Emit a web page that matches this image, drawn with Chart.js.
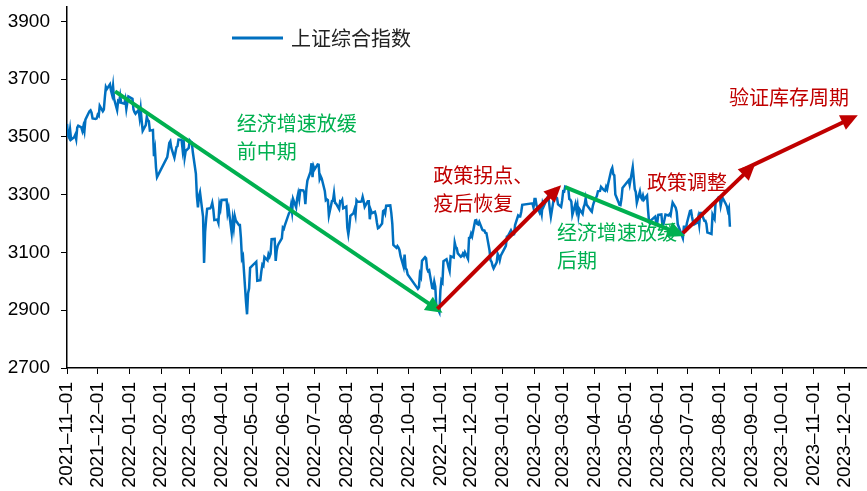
<!DOCTYPE html>
<html>
<head>
<meta charset="utf-8">
<script src="https://cdn.jsdelivr.net/npm/chart.js@4"></script>
<style>
  body { margin: 0; background: #fff; }
</style>
</head>
<body>
<canvas id="sseChart" width="867" height="491"></canvas>
<script>
// 上证综合指数 daily close
var closeDates = [
  '2021-11-01','2021-11-02','2021-11-03','2021-11-04','2021-11-05','2021-11-08','2021-11-09','2021-11-10','2021-11-11','2021-11-12',
  '2021-11-15','2021-11-16','2021-11-17','2021-11-18','2021-11-19','2021-11-22','2021-11-23','2021-11-24','2021-11-25','2021-11-26',
  '2021-11-29','2021-11-30','2021-12-01','2021-12-02','2021-12-03','2021-12-06','2021-12-07','2021-12-08','2021-12-09','2021-12-10',
  '2021-12-13','2021-12-14','2021-12-15','2021-12-16','2021-12-17','2021-12-20','2021-12-21','2021-12-22','2021-12-23','2021-12-24',
  '2021-12-27','2021-12-28','2021-12-29','2021-12-30','2021-12-31','2022-01-04','2022-01-05','2022-01-06','2022-01-07','2022-01-10',
  '2022-01-11','2022-01-12','2022-01-13','2022-01-14','2022-01-17','2022-01-18','2022-01-19','2022-01-20','2022-01-21','2022-01-24',
  '2022-01-25','2022-01-26','2022-01-27','2022-01-28','2022-02-07','2022-02-08','2022-02-09','2022-02-10','2022-02-11','2022-02-14',
  '2022-02-15','2022-02-16','2022-02-17','2022-02-18','2022-02-21','2022-02-22','2022-02-23','2022-02-24','2022-02-25','2022-02-28',
  '2022-03-01','2022-03-02','2022-03-03','2022-03-04','2022-03-07','2022-03-08','2022-03-09','2022-03-10','2022-03-11','2022-03-14',
  '2022-03-15','2022-03-16','2022-03-17','2022-03-18','2022-03-21','2022-03-22','2022-03-23','2022-03-24','2022-03-25','2022-03-28',
  '2022-03-29','2022-03-30','2022-03-31','2022-04-01','2022-04-06','2022-04-07','2022-04-08','2022-04-11','2022-04-12','2022-04-13',
  '2022-04-14','2022-04-15','2022-04-18','2022-04-19','2022-04-20','2022-04-21','2022-04-22','2022-04-25','2022-04-26','2022-04-27',
  '2022-04-28','2022-04-29','2022-05-05','2022-05-06','2022-05-09','2022-05-10','2022-05-11','2022-05-12','2022-05-13','2022-05-16',
  '2022-05-17','2022-05-18','2022-05-19','2022-05-20','2022-05-23','2022-05-24','2022-05-25','2022-05-26','2022-05-27','2022-05-30',
  '2022-05-31','2022-06-01','2022-06-02','2022-06-06','2022-06-07','2022-06-08','2022-06-09','2022-06-10','2022-06-13','2022-06-14',
  '2022-06-15','2022-06-16','2022-06-17','2022-06-20','2022-06-21','2022-06-22','2022-06-23','2022-06-24','2022-06-27','2022-06-28',
  '2022-06-29','2022-06-30','2022-07-01','2022-07-04','2022-07-05','2022-07-06','2022-07-07','2022-07-08','2022-07-11','2022-07-12',
  '2022-07-13','2022-07-14','2022-07-15','2022-07-18','2022-07-19','2022-07-20','2022-07-21','2022-07-22','2022-07-25','2022-07-26',
  '2022-07-27','2022-07-28','2022-07-29','2022-08-01','2022-08-02','2022-08-03','2022-08-04','2022-08-05','2022-08-08','2022-08-09',
  '2022-08-10','2022-08-11','2022-08-12','2022-08-15','2022-08-16','2022-08-17','2022-08-18','2022-08-19','2022-08-22','2022-08-23',
  '2022-08-24','2022-08-25','2022-08-26','2022-08-29','2022-08-30','2022-08-31','2022-09-01','2022-09-02','2022-09-05','2022-09-06',
  '2022-09-07','2022-09-08','2022-09-09','2022-09-13','2022-09-14','2022-09-15','2022-09-16','2022-09-19','2022-09-20','2022-09-21',
  '2022-09-22','2022-09-23','2022-09-26','2022-09-27','2022-09-28','2022-09-29','2022-09-30','2022-10-10','2022-10-11','2022-10-12',
  '2022-10-13','2022-10-14','2022-10-17','2022-10-18','2022-10-19','2022-10-20','2022-10-21','2022-10-24','2022-10-25','2022-10-26',
  '2022-10-27','2022-10-28','2022-10-31','2022-11-01','2022-11-02','2022-11-03','2022-11-04','2022-11-07','2022-11-08','2022-11-09',
  '2022-11-10','2022-11-11','2022-11-14','2022-11-15','2022-11-16','2022-11-17','2022-11-18','2022-11-21','2022-11-22','2022-11-23',
  '2022-11-24','2022-11-25','2022-11-28','2022-11-29','2022-11-30','2022-12-01','2022-12-02','2022-12-05','2022-12-06','2022-12-07',
  '2022-12-08','2022-12-09','2022-12-12','2022-12-13','2022-12-14','2022-12-15','2022-12-16','2022-12-19','2022-12-20','2022-12-21',
  '2022-12-22','2022-12-23','2022-12-26','2022-12-27','2022-12-28','2022-12-29','2022-12-30','2023-01-03','2023-01-04','2023-01-05',
  '2023-01-06','2023-01-09','2023-01-10','2023-01-11','2023-01-12','2023-01-13','2023-01-16','2023-01-17','2023-01-18','2023-01-19',
  '2023-01-20','2023-01-30','2023-01-31','2023-02-01','2023-02-02','2023-02-03','2023-02-06','2023-02-07','2023-02-08','2023-02-09',
  '2023-02-10','2023-02-13','2023-02-14','2023-02-15','2023-02-16','2023-02-17','2023-02-20','2023-02-21','2023-02-22','2023-02-23',
  '2023-02-24','2023-02-27','2023-02-28','2023-03-01','2023-03-02','2023-03-03','2023-03-06','2023-03-07','2023-03-08','2023-03-09',
  '2023-03-10','2023-03-13','2023-03-14','2023-03-15','2023-03-16','2023-03-17','2023-03-20','2023-03-21','2023-03-22','2023-03-23',
  '2023-03-24','2023-03-27','2023-03-28','2023-03-29','2023-03-30','2023-03-31','2023-04-03','2023-04-04','2023-04-06','2023-04-07',
  '2023-04-10','2023-04-11','2023-04-12','2023-04-13','2023-04-14','2023-04-17','2023-04-18','2023-04-19','2023-04-20','2023-04-21',
  '2023-04-24','2023-04-25','2023-04-26','2023-04-27','2023-04-28','2023-05-04','2023-05-05','2023-05-08','2023-05-09','2023-05-10',
  '2023-05-11','2023-05-12','2023-05-15','2023-05-16','2023-05-17','2023-05-18','2023-05-19','2023-05-22','2023-05-23','2023-05-24',
  '2023-05-25','2023-05-26','2023-05-29','2023-05-30','2023-05-31','2023-06-01','2023-06-02','2023-06-05','2023-06-06','2023-06-07',
  '2023-06-08','2023-06-09','2023-06-12','2023-06-13','2023-06-14','2023-06-15','2023-06-16','2023-06-19','2023-06-20','2023-06-21',
  '2023-06-26','2023-06-27','2023-06-28','2023-06-29','2023-06-30','2023-07-03','2023-07-04','2023-07-05','2023-07-06','2023-07-07',
  '2023-07-10','2023-07-11','2023-07-12','2023-07-13','2023-07-14','2023-07-17','2023-07-18','2023-07-19','2023-07-20','2023-07-21',
  '2023-07-24','2023-07-25','2023-07-26','2023-07-27','2023-07-28','2023-07-31','2023-08-01','2023-08-02','2023-08-03','2023-08-04',
  '2023-08-07','2023-08-08','2023-08-09','2023-08-10','2023-08-11'
];
var closeValues = [
  3545,3505,3498,3526,3491,3499,3507,3492,3532,3539,
  3533,3521,3537,3520,3560,3582,3589,3592,3584,3564,
  3562,3564,3577,3573,3608,3589,3595,3637,3673,3666,
  3682,3661,3647,3676,3632,3593,3625,3622,3643,3618,
  3615,3630,3597,3620,3640,3632,3595,3586,3580,3594,
  3567,3597,3555,3521,3541,3569,3558,3555,3522,3524,
  3433,3455,3394,3361,3430,3453,3479,3485,3462,3428,
  3446,3465,3468,3491,3490,3457,3489,3429,3451,3462,
  3488,3484,3481,3447,3372,3293,3256,3296,3309,3223,
  3064,3170,3215,3251,3253,3259,3272,3250,3212,3214,
  3203,3266,3252,3282,3283,3236,3252,3167,3213,3186,
  3226,3211,3195,3195,3151,3079,3087,2928,2886,2959,
  2976,3047,3068,3002,3004,3035,3058,3054,3084,3073,
  3094,3086,3096,3146,3147,3071,3107,3123,3131,3149,
  3186,3182,3195,3236,3241,3263,3239,3285,3256,3288,
  3305,3285,3316,3315,3307,3267,3320,3349,3379,3409,
  3361,3398,3388,3405,3404,3355,3364,3356,3313,3281,
  3284,3281,3228,3278,3279,3305,3272,3269,3250,3277,
  3275,3282,3253,3259,3186,3163,3189,3227,3236,3248,
  3230,3281,3276,3276,3277,3292,3277,3258,3277,3277,
  3215,3246,3236,3241,3227,3202,3184,3186,3200,3243,
  3246,3236,3262,3263,3237,3199,3126,3116,3122,3117,
  3108,3088,3051,3093,3045,3041,3024,2974,2979,3025,
  3016,3071,3084,3080,3044,3035,3038,2977,2976,2999,
  2982,2916,2893,2969,3003,2997,3070,3077,3064,3048,
  3036,3087,3083,3134,3119,3115,3097,3085,3088,3096,
  3089,3101,3078,3150,3151,3165,3156,3211,3212,3199,
  3197,3206,3179,3176,3176,3168,3167,3108,3073,3068,
  3054,3045,3066,3095,3087,3073,3089,3116,3123,3155,
  3157,3177,3170,3162,3163,3195,3228,3225,3225,3240,
  3265,3270,3256,3285,3285,3263,3238,3248,3232,3270,
  3260,3284,3293,3280,3249,3224,3290,3307,3292,3288,
  3267,3258,3280,3312,3311,3328,3322,3285,3283,3276,
  3230,3268,3245,3263,3227,3250,3234,3256,3266,3287,
  3265,3251,3245,3241,3261,3273,3296,3312,3313,3327,
  3315,3313,3327,3319,3338,3385,3393,3371,3367,3301,
  3275,3265,3264,3286,3323,3350,3334,3395,3357,3319,
  3309,3272,3311,3291,3285,3297,3283,3297,3246,3204,
  3201,3212,3221,3224,3204,3204,3230,3232,3195,3197,
  3213,3231,3228,3233,3228,3252,3273,3255,3240,3198,
  3150,3189,3189,3182,3202,3244,3245,3223,3205,3197,
  3203,3221,3196,3237,3237,3210,3210,3199,3169,3168,
  3164,3231,3223,3216,3275,3291,3290,3262,3280,3288,
  3268,3260,3244,3254,3189
];

// month ticks on the date axis
var tickLabels = [
  '2021-11-01','2021-12-01','2022-01-01','2022-02-01','2022-03-01','2022-04-01','2022-05-01',
  '2022-06-01','2022-07-01','2022-08-01','2022-09-01','2022-10-01','2022-11-01','2022-12-01',
  '2023-01-01','2023-02-01','2023-03-01','2023-04-01','2023-05-01','2023-06-01','2023-07-01',
  '2023-08-01','2023-09-01','2023-10-01','2023-11-01','2023-12-01'
];
var yTicks = [2700, 2900, 3100, 3300, 3500, 3700, 3900];

// trend arrows: [date, index level] -> [date, index level]
var arrowFrom = [['2021-12-18', 3658], ['2022-10-29', 2905], ['2023-03-03', 3326], ['2023-06-26', 3167], ['2023-08-23', 3385]];
var arrowTo   = [['2022-11-03', 2891], ['2023-02-27', 3333], ['2023-06-28', 3157], ['2023-09-05', 3409], ['2023-12-14', 3575]];
var arrowKind = ['down', 'up', 'down', 'up', 'up'];

// phase notes, anchored at [date, index level]
var noteLines = [['经济增速放缓', '前中期'], ['政策拐点、', '疫后恢复'], ['经济增速放缓', '后期'], ['政策调整'], ['验证库存周期']];
var noteAt = [['2022-04-16', 3548], ['2022-10-25', 3368], ['2023-02-23', 3171], ['2023-05-22', 3344], ['2023-08-10', 3638]];
var noteKind = ['down', 'up', 'down', 'up', 'up'];

var GREEN = '#00B050';
var RED = '#C00000';
var CJK = '"Noto Sans CJK SC", sans-serif';

var t0 = Date.UTC(2021, 10, 1);
function dayOf(s) {
  var p = s.split('-').map(Number);
  return Math.round((Date.UTC(p[0], p[1] - 1, p[2]) - t0) / 86400000);
}
function dateOf(d) {
  return new Date(t0 + d * 86400000).toISOString().slice(0, 10);
}

var points = closeDates.map(function (d, i) { return { x: dayOf(d), y: closeValues[i] }; });

var notesAndArrows = {
  id: 'notesAndArrows',
  afterDatasetsDraw: function (chart) {
    var c = chart.ctx, xs = chart.scales.x, ys = chart.scales.y;

    // legend
    c.save();
    c.strokeStyle = '#0070C0';
    c.lineWidth = 3;
    c.beginPath();
    c.moveTo(232, 38);
    c.lineTo(283, 38);
    c.stroke();
    c.fillStyle = '#222';
    c.font = '20px ' + CJK;
    c.textBaseline = 'middle';
    c.fillText(chart.data.datasets[0].label, 291, 38);

    // notes
    noteLines.forEach(function (lines, i) {
      var x = xs.getPixelForValue(dayOf(noteAt[i][0]));
      var y = ys.getPixelForValue(noteAt[i][1]);
      c.fillStyle = noteKind[i] === 'down' ? GREEN : RED;
      lines.forEach(function (t, k) { c.fillText(t, x, y + k * 28); });
    });

    // arrows
    arrowFrom.forEach(function (a, i) {
      var x1 = xs.getPixelForValue(dayOf(a[0])), y1 = ys.getPixelForValue(a[1]);
      var x2 = xs.getPixelForValue(dayOf(arrowTo[i][0])), y2 = ys.getPixelForValue(arrowTo[i][1]);
      var col = arrowKind[i] === 'down' ? GREEN : RED;
      var ang = Math.atan2(y2 - y1, x2 - x1);
      var head = 17, half = 8;
      var bx = x2 - head * Math.cos(ang), by = y2 - head * Math.sin(ang);
      c.strokeStyle = col;
      c.fillStyle = col;
      c.lineWidth = 4;
      c.lineCap = 'butt';
      c.beginPath();
      c.moveTo(x1, y1);
      c.lineTo(bx + 2 * Math.cos(ang), by + 2 * Math.sin(ang));
      c.stroke();
      c.beginPath();
      c.moveTo(x2, y2);
      c.lineTo(bx + half * Math.sin(ang), by - half * Math.cos(ang));
      c.lineTo(bx - half * Math.sin(ang), by + half * Math.cos(ang));
      c.closePath();
      c.fill();
    });
    c.restore();
  }
};

Chart.defaults.font.family = '"Liberation Sans", Arial, sans-serif';
Chart.defaults.font.size = 19;
Chart.defaults.color = '#000';

new Chart(document.getElementById('sseChart'), {
  type: 'line',
  data: {
    datasets: [{
      label: '上证综合指数',
      data: points,
      borderColor: '#0070C0',
      borderWidth: 2.5,
      pointRadius: 0,
      tension: 0,
      fill: false
    }]
  },
  options: {
    responsive: false,
    animation: false,
    layout: { padding: { top: 7, right: 0, bottom: 0, left: 0 } },
    plugins: {
      legend: { display: false },
      tooltip: { enabled: false }
    },
    scales: {
      x: {
        type: 'linear',
        min: 0,
        max: 782,
        afterBuildTicks: function (axis) {
          axis.ticks = tickLabels.map(function (s) { return { value: dayOf(s) }; });
        },
        afterFit: function (axis) {
          axis.height = 123;
          axis.paddingLeft = 0;
          axis.paddingRight = 0;
        },
        ticks: {
          autoSkip: false,
          minRotation: 90,
          maxRotation: 90,
          padding: 8,
          callback: function (v) { return dateOf(v).replace(/-/g, '–'); }
        },
        grid: { drawOnChartArea: false, color: '#000', tickLength: 6 },
        border: { color: '#000', width: 1.5 }
      },
      y: {
        min: 2700,
        max: 3950,
        afterBuildTicks: function (axis) {
          axis.ticks = yTicks.map(function (v) { return { value: v }; });
        },
        afterFit: function (axis) {
          axis.width = 67;
          axis.paddingTop = 0;
          axis.paddingBottom = 0;
        },
        ticks: {
          padding: 11,
          callback: function (v) { return String(v); }
        },
        grid: { drawOnChartArea: false, color: '#000', tickLength: 6 },
        border: { color: '#000', width: 1.5 }
      }
    }
  },
  plugins: [notesAndArrows]
});
</script>
</body>
</html>
